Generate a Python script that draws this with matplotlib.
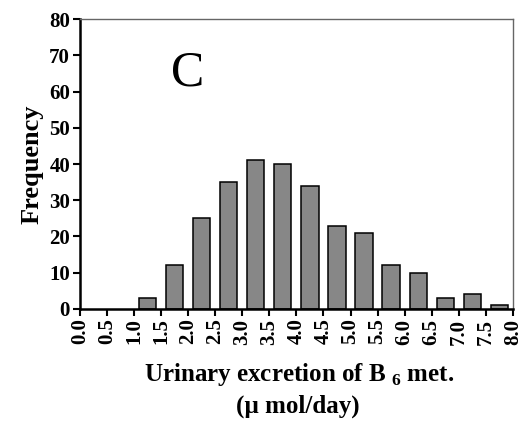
import numpy as np
import matplotlib
matplotlib.use("Agg")
import matplotlib.pyplot as plt

bin_centers = [1.25, 1.75, 2.25, 2.75, 3.25, 3.75, 4.25, 4.75, 5.25, 5.75,
               6.25, 6.75, 7.25, 7.75]
counts = [3, 12, 25, 35, 41, 40, 34, 23, 21, 12, 10, 3, 4, 1]
xticks = np.arange(0, 8.01, 0.5)
yticks = np.arange(0, 81, 10)

plt.rcParams['font.family'] = ['Liberation Serif', 'DejaVu Serif']
plt.rcParams['font.weight'] = 'bold'
plt.rcParams['mathtext.fontset'] = 'custom'
plt.rcParams['mathtext.rm'] = 'Liberation Serif'
plt.rcParams['mathtext.bf'] = 'Liberation Serif:bold'

fig = plt.figure(figsize=(5.25, 4.26), dpi=100)
ax = fig.add_axes((0.152, 0.275, 0.825, 0.68))

ax.bar(bin_centers, counts, width=0.32, color='#878787',
       edgecolor='black', linewidth=1.1, zorder=2)

ax.set_xlim(0, 8)
ax.set_ylim(0, 80)
ax.set_xticks(xticks)
ax.set_xticklabels([f'{v:.1f}' for v in xticks], rotation=90,
                   fontsize=15, fontweight='bold')
ax.set_yticks(yticks)
ax.set_yticklabels([str(v) for v in yticks], fontsize=15, fontweight='bold')
ax.tick_params(axis='both', direction='out', length=5, width=1.5, pad=2)

ax.spines['left'].set_linewidth(1.8)
ax.spines['bottom'].set_linewidth(1.8)
for s in ['top', 'right']:
    ax.spines[s].set_linewidth(1.0)
    ax.spines[s].set_color('#666666')

ax.set_ylabel('Frequency', fontsize=19, fontweight='bold', labelpad=4)
fig.text(0.57, 0.122, 'Urinary excretion of B$_{\\mathbf{\\ 6}}$ met.',
         ha='center', va='center', fontsize=18, fontweight='bold')
fig.text(0.567, 0.047, '(\u00b5 mol/day)', ha='center', va='center',
         fontsize=18, fontweight='bold')

ax.text(2.0, 65, 'C', ha='center', va='center', fontsize=36,
        fontweight='normal')

fig.savefig('out.png', dpi=100)
